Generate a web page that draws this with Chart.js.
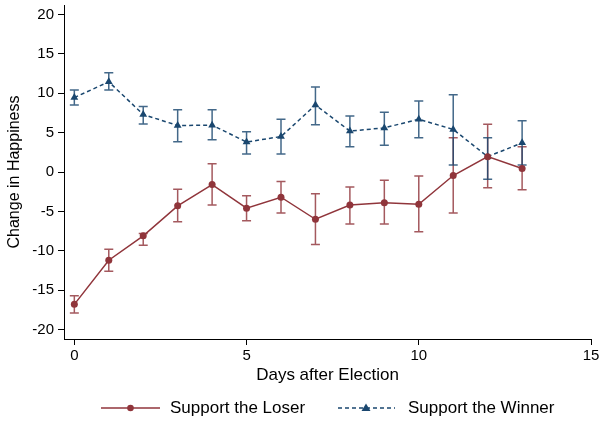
<!DOCTYPE html>
<html><head><meta charset="utf-8">
<script src="https://cdn.jsdelivr.net/npm/chart.js@4"></script>
<style>html,body{margin:0;padding:0;background:#fff}#wrap{width:599px;height:423px;position:relative}</style>
</head><body><div id="wrap"><canvas id="c" width="599" height="423"></canvas></div>
<script>
const days = [0,1,2,3,4,5,6,7,8,9,10,11,12,13];
const loserMean = [-16.8,-11.2,-8.1,-4.3,-1.6,-4.6,-3.2,-6.0,-4.2,-3.9,-4.1,-0.45,1.95,0.45];
const loserLow  = [-17.9,-12.6,-9.3,-6.3,-4.2,-6.2,-5.2,-9.2,-6.6,-6.6,-7.6,-5.2,-2.0,-2.25];
const loserHigh = [-15.7,-9.8,-7.8,-2.2,1.05,-3.0,-1.2,-2.75,-1.9,-1.05,-0.5,4.35,6.05,3.2];
const winnerMean = [9.45,11.45,7.3,5.9,5.95,3.8,4.5,8.5,5.2,5.6,6.7,5.4,1.95,3.7];
const winnerLow  = [8.5,10.4,6.1,3.85,4.1,2.3,2.3,6.0,3.2,3.4,4.35,0.9,-0.93,0.9];
const winnerHigh = [10.4,12.6,8.3,7.9,7.9,5.1,6.7,10.8,7.1,7.6,9.0,9.8,4.35,6.5];
const xTicks = [0,5,10,15];
const yTicks = [-20,-15,-10,-5,0,5,10,15,20];
const seriesNames = ['Support the Loser','Support the Winner'];
const xTitle = 'Days after Election';
const yTitle = 'Change in Happiness';

const RED = '#90353b', BLUE = '#1a476f';
const FONT = "'Liberation Sans', Arial, sans-serif";
Chart.defaults.font.family = FONT;
Chart.defaults.color = '#000';

const pts = (ys) => days.map((d,i)=>({x:d,y:ys[i]}));

const errorBars = {
  id:'errorBars',
  beforeDatasetsDraw(chart){
    const ctx = chart.ctx, xs = chart.scales.x, ys = chart.scales.y;
    const sets = [[loserLow,loserHigh,'rgba(144,53,59,0.82)'],[winnerLow,winnerHigh,'rgba(26,71,111,0.82)']];
    ctx.save();
    ctx.lineWidth = 1.5;
    sets.forEach(([lo,hi,col])=>{
      ctx.strokeStyle = col;
      days.forEach((d,i)=>{
        const px = xs.getPixelForValue(d), y1 = ys.getPixelForValue(lo[i]), y2 = ys.getPixelForValue(hi[i]);
        ctx.beginPath();
        ctx.moveTo(px,y1); ctx.lineTo(px,y2);
        ctx.moveTo(px-4.5,y1); ctx.lineTo(px+4.5,y1);
        ctx.moveTo(px-4.5,y2); ctx.lineTo(px+4.5,y2);
        ctx.stroke();
      });
    });
    ctx.restore();
  }
};

const legendPlugin = {
  id:'customLegend',
  afterDraw(chart){
    const ctx = chart.ctx;
    const y = 408;
    ctx.save();
    ctx.strokeStyle = RED; ctx.lineWidth = 1.5; ctx.setLineDash([]);
    ctx.beginPath(); ctx.moveTo(101,y); ctx.lineTo(160,y); ctx.stroke();
    ctx.fillStyle = RED; ctx.beginPath(); ctx.arc(130.5,y,3.3,0,Math.PI*2); ctx.fill();
    ctx.strokeStyle = BLUE; ctx.setLineDash([4,3]);
    ctx.beginPath(); ctx.moveTo(338,y); ctx.lineTo(395,y); ctx.stroke();
    ctx.setLineDash([]);
    ctx.fillStyle = BLUE; ctx.beginPath();
    ctx.moveTo(366,y-4.5); ctx.lineTo(370.5,y+3); ctx.lineTo(361.5,y+3); ctx.closePath(); ctx.fill();
    ctx.fillStyle = '#000';
    ctx.font = "17px " + FONT;
    ctx.textBaseline = 'middle';
    ctx.fillText(seriesNames[0],170,y);
    ctx.fillText(seriesNames[1],408,y);
    ctx.restore();
  }
};

new Chart(document.getElementById('c'),{
  type:'line',
  data:{datasets:[
    {label:seriesNames[0],data:pts(loserMean),borderColor:RED,backgroundColor:RED,borderWidth:1.5,
     pointStyle:'circle',pointRadius:3.5,pointBorderWidth:0,tension:0},
    {label:seriesNames[1],data:pts(winnerMean),borderColor:BLUE,backgroundColor:BLUE,borderWidth:1.5,borderDash:[4,3],
     pointStyle:'triangle',pointRadius:4.5,pointBorderWidth:0,tension:0}
  ]},
  options:{
    responsive:false, animation:false, devicePixelRatio:1,
    layout:{padding:{left:0,top:5,right:8,bottom:36}},
    plugins:{legend:{display:false},tooltip:{enabled:false}},
    scales:{
      x:{type:'linear',min:-0.3,max:15,
        afterBuildTicks(a){a.ticks = xTicks.map(v=>({value:v}));},
        afterFit(a){a.height = 48; a.paddingLeft = 0; a.paddingRight = 0;},
        grid:{drawOnChartArea:false,drawTicks:true,tickLength:6,color:'#000',tickWidth:1},
        border:{display:true,color:'#000',width:1},
        ticks:{font:{size:15},color:'#000',padding:2,maxRotation:0},
        title:{display:true,text:xTitle,font:{size:17},color:'#000',padding:{top:0,bottom:1}}
      },
      y:{type:'linear',min:-21.2,max:21.2,
        afterBuildTicks(a){a.ticks = yTicks.map(v=>({value:v}));},
        afterFit(a){a.width = 64; a.paddingTop = 0; a.paddingBottom = 0;},
        grid:{drawOnChartArea:false,drawTicks:true,tickLength:6,color:'#000',tickWidth:1},
        border:{display:true,color:'#000',width:1},
        ticks:{font:{size:15},color:'#000',padding:4},
        title:{display:true,text:yTitle,font:{size:16},color:'#000',padding:{top:5,bottom:0}}
      }
    }
  },
  plugins:[errorBars,legendPlugin]
});
</script></body></html>
